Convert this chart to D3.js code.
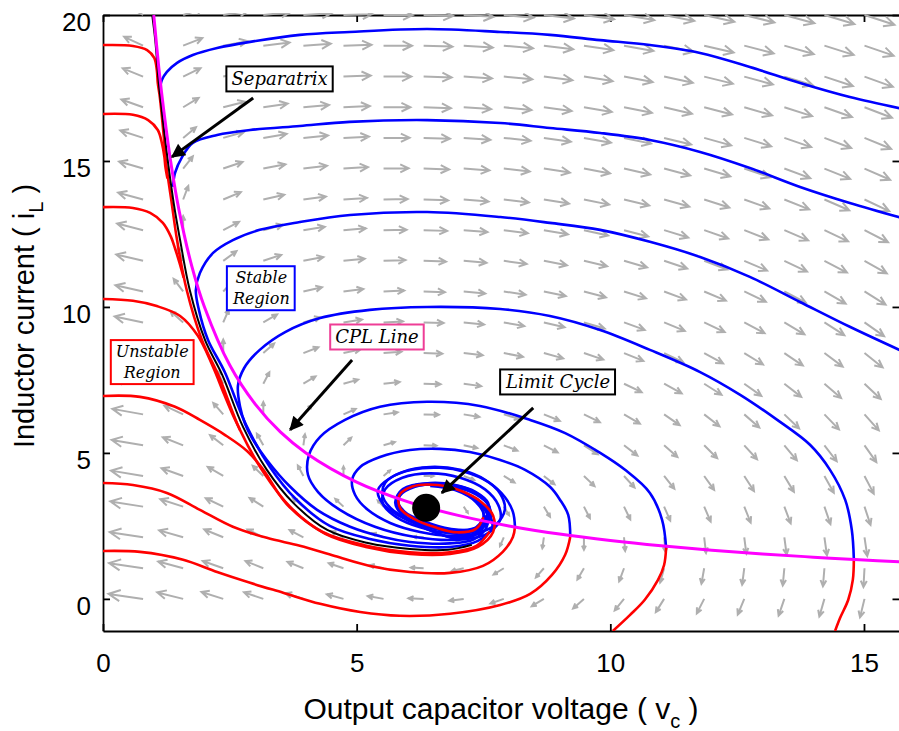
<!DOCTYPE html>
<html>
<head>
<meta charset="utf-8">
<script src="https://cdnjs.cloudflare.com/ajax/libs/d3/7.8.5/d3.min.js"></script>
<style>
  body { margin: 0; background: #fff; }
  svg { display: block; }
</style>
</head>
<body>
<div id="chart"></div>
<script>

// quiver grid (v along columns, i along rows) and the field read at each point
var fieldV = [0.79, 1.58, 2.37, 3.16, 3.95, 4.74, 5.53, 6.32, 7.11, 7.90, 8.69, 9.48, 10.27, 11.06, 11.85, 12.64, 13.43, 14.22, 15.01];
var fieldI = [0, 1.05, 2.11, 3.16, 4.21, 5.26, 6.32, 7.37, 8.42, 9.47, 10.53, 11.58, 12.63, 13.68, 14.74, 15.79, 16.84, 17.89, 18.95, 20];

var fieldDv = [
  [-25.3, -12.7, -8.4, -6.3, -5.1, -4.2, -3.6, -3.2, -2.8, -2.5, -2.3, -2.1, -1.9, -1.8, -1.7, -1.6, -1.5, -1.4, -1.3],
  [-24.3, -11.6, -7.4, -5.3, -4.0, -3.2, -2.6, -2.1, -1.8, -1.5, -1.2, -1.1, -0.9, -0.8, -0.6, -0.5, -0.4, -0.4, -0.3],
  [-23.2, -10.6, -6.3, -4.2, -3.0, -2.1, -1.5, -1.1, -0.7, -0.4, -0.2, 0.0, 0.2, 0.3, 0.4, 0.5, 0.6, 0.7, 0.8],
  [-22.2, -9.5, -5.3, -3.2, -1.9, -1.1, -0.5, 0.0, 0.3, 0.6, 0.9, 1.0, 1.2, 1.3, 1.5, 1.6, 1.7, 1.7, 1.8],
  [-21.1, -8.4, -4.2, -2.1, -0.8, 0.0, 0.6, 1.1, 1.4, 1.7, 1.9, 2.1, 2.3, 2.4, 2.5, 2.6, 2.7, 2.8, 2.9],
  [-20.1, -7.4, -3.2, -1.1, 0.2, 1.0, 1.6, 2.1, 2.5, 2.7, 3.0, 3.2, 3.3, 3.5, 3.6, 3.7, 3.8, 3.9, 3.9],
  [-19.0, -6.3, -2.1, 0.0, 1.3, 2.1, 2.7, 3.2, 3.5, 3.8, 4.0, 4.2, 4.4, 4.5, 4.6, 4.7, 4.8, 4.9, 5.0],
  [-18.0, -5.3, -1.1, 1.0, 2.3, 3.1, 3.7, 4.2, 4.6, 4.8, 5.1, 5.3, 5.4, 5.6, 5.7, 5.8, 5.9, 6.0, 6.0],
  [-16.9, -4.2, 0.0, 2.1, 3.4, 4.2, 4.8, 5.3, 5.6, 5.9, 6.1, 6.3, 6.5, 6.6, 6.7, 6.8, 6.9, 7.0, 7.1],
  [-15.8, -3.2, 1.0, 3.1, 4.4, 5.3, 5.9, 6.3, 6.7, 6.9, 7.2, 7.4, 7.5, 7.7, 7.8, 7.9, 8.0, 8.1, 8.1],
  [-14.8, -2.1, 2.1, 4.2, 5.5, 6.3, 6.9, 7.4, 7.7, 8.0, 8.2, 8.4, 8.6, 8.7, 8.8, 8.9, 9.0, 9.1, 9.2],
  [-13.7, -1.1, 3.1, 5.2, 6.5, 7.4, 8.0, 8.4, 8.8, 9.0, 9.3, 9.5, 9.6, 9.8, 9.9, 10.0, 10.1, 10.2, 10.2],
  [-12.7, 0.0, 4.2, 6.3, 7.6, 8.4, 9.0, 9.5, 9.8, 10.1, 10.3, 10.5, 10.7, 10.8, 10.9, 11.1, 11.1, 11.2, 11.3],
  [-11.6, 1.0, 5.2, 7.4, 8.6, 9.5, 10.1, 10.5, 10.9, 11.2, 11.4, 11.6, 11.7, 11.9, 12.0, 12.1, 12.2, 12.3, 12.4],
  [-10.6, 2.1, 6.3, 8.4, 9.7, 10.5, 11.1, 11.6, 11.9, 12.2, 12.4, 12.6, 12.8, 12.9, 13.0, 13.2, 13.3, 13.3, 13.4],
  [-9.5, 3.1, 7.3, 9.5, 10.7, 11.6, 12.2, 12.6, 13.0, 13.3, 13.5, 13.7, 13.8, 14.0, 14.1, 14.2, 14.3, 14.4, 14.5],
  [-8.5, 4.2, 8.4, 10.5, 11.8, 12.6, 13.2, 13.7, 14.0, 14.3, 14.5, 14.7, 14.9, 15.0, 15.2, 15.3, 15.4, 15.4, 15.5],
  [-7.4, 5.2, 9.5, 11.6, 12.8, 13.7, 14.3, 14.7, 15.1, 15.4, 15.6, 15.8, 15.9, 16.1, 16.2, 16.3, 16.4, 16.5, 16.6],
  [-6.4, 6.3, 10.5, 12.6, 13.9, 14.7, 15.3, 15.8, 16.1, 16.4, 16.6, 16.8, 17.0, 17.1, 17.3, 17.4, 17.5, 17.5, 17.6],
  [-5.3, 7.3, 11.6, 13.7, 14.9, 15.8, 16.4, 16.8, 17.2, 17.5, 17.7, 17.9, 18.1, 18.2, 18.3, 18.4, 18.5, 18.6, 18.7]
];

var fieldDi = [
  [6.3, 5.5, 4.6, 3.7, 2.8, 2.0, 1.1, 0.2, -0.6, -1.5, -2.4, -3.2, -4.1, -5.0, -5.8, -6.7, -7.6, -8.4, -9.3],
  [6.3, 5.4, 4.5, 3.7, 2.8, 1.9, 1.0, 0.2, -0.7, -1.6, -2.4, -3.3, -4.2, -5.0, -5.9, -6.8, -7.6, -8.5, -9.4],
  [6.2, 5.3, 4.5, 3.6, 2.7, 1.9, 1.0, 0.1, -0.8, -1.6, -2.5, -3.4, -4.2, -5.1, -6.0, -6.8, -7.7, -8.6, -9.4],
  [6.1, 5.3, 4.4, 3.5, 2.7, 1.8, 0.9, 0.05, -0.8, -1.7, -2.6, -3.4, -4.3, -5.2, -6.0, -6.9, -7.8, -8.6, -9.5],
  [6.1, 5.2, 4.3, 3.5, 2.6, 1.7, 0.9, 0.0, -0.9, -1.8, -2.6, -3.5, -4.4, -5.2, -6.1, -7.0, -7.8, -8.7, -9.6],
  [6.0, 5.1, 4.3, 3.4, 2.5, 1.7, 0.8, -0.1, -0.9, -1.8, -2.7, -3.6, -4.4, -5.3, -6.2, -7.0, -7.9, -8.8, -9.6],
  [5.9, 5.1, 4.2, 3.3, 2.5, 1.6, 0.7, -0.1, -1.0, -1.9, -2.8, -3.6, -4.5, -5.4, -6.2, -7.1, -8.0, -8.8, -9.7],
  [5.9, 5.0, 4.1, 3.3, 2.4, 1.5, 0.7, -0.2, -1.1, -1.9, -2.8, -3.7, -4.5, -5.4, -6.3, -7.2, -8.0, -8.9, -9.8],
  [5.8, 4.9, 4.1, 3.2, 2.3, 1.5, 0.6, -0.3, -1.1, -2.0, -2.9, -3.7, -4.6, -5.5, -6.4, -7.2, -8.1, -9.0, -9.8],
  [5.8, 4.9, 4.0, 3.1, 2.3, 1.4, 0.5, -0.3, -1.2, -2.1, -2.9, -3.8, -4.7, -5.5, -6.4, -7.3, -8.2, -9.0, -9.9],
  [5.7, 4.8, 3.9, 3.1, 2.2, 1.3, 0.5, -0.4, -1.3, -2.1, -3.0, -3.9, -4.7, -5.6, -6.5, -7.3, -8.2, -9.1, -10.0],
  [5.6, 4.8, 3.9, 3.0, 2.1, 1.3, 0.4, -0.5, -1.3, -2.2, -3.1, -3.9, -4.8, -5.7, -6.5, -7.4, -8.3, -9.2, -10.0],
  [5.6, 4.7, 3.8, 3.0, 2.1, 1.2, 0.3, -0.5, -1.4, -2.3, -3.1, -4.0, -4.9, -5.7, -6.6, -7.5, -8.3, -9.2, -10.1],
  [5.5, 4.6, 3.8, 2.9, 2.0, 1.1, 0.3, -0.6, -1.5, -2.3, -3.2, -4.1, -4.9, -5.8, -6.7, -7.5, -8.4, -9.3, -10.1],
  [5.4, 4.6, 3.7, 2.8, 2.0, 1.1, 0.2, -0.7, -1.5, -2.4, -3.3, -4.1, -5.0, -5.9, -6.7, -7.6, -8.5, -9.3, -10.2],
  [5.4, 4.5, 3.6, 2.8, 1.9, 1.0, 0.2, -0.7, -1.6, -2.5, -3.3, -4.2, -5.1, -5.9, -6.8, -7.7, -8.5, -9.4, -10.3],
  [5.3, 4.4, 3.6, 2.7, 1.8, 1.0, 0.1, -0.8, -1.6, -2.5, -3.4, -4.3, -5.1, -6.0, -6.9, -7.7, -8.6, -9.5, -10.3],
  [5.2, 4.4, 3.5, 2.6, 1.8, 0.9, 0.0, -0.8, -1.7, -2.6, -3.5, -4.3, -5.2, -6.1, -6.9, -7.8, -8.7, -9.5, -10.4],
  [5.2, 4.3, 3.4, 2.6, 1.7, 0.8, 0.0, -0.9, -1.8, -2.6, -3.5, -4.4, -5.3, -6.1, -7.0, -7.9, -8.7, -9.6, -10.5],
  [5.1, 4.2, 3.4, 2.5, 1.6, 0.8, -0.1, -1.0, -1.8, -2.7, -3.6, -4.4, -5.3, -6.2, -7.1, -7.9, -8.8, -9.7, -10.5]
];

// CPL line and separatrix, [v, i]
var cplLine = [[1.0, 20], [1.1, 18.2], [1.2, 16.7], [1.35, 14.8], [1.5, 13.3], [1.75, 11.4], [2.0, 10.0], [2.5, 8.0],
  [3.0, 6.67], [3.5, 5.71], [4.0, 5.0], [5.0, 4.0], [6.0, 3.33], [7.0, 2.86], [8.0, 2.5], [9.0, 2.22], [10.0, 2.0],
  [11.0, 1.82], [12.0, 1.67], [13.0, 1.54], [14.0, 1.43], [15.0, 1.33], [15.7, 1.27]];

var separatrix = [[0.97, 20.0], [1.03, 19.14], [1.10, 17.67], [1.18, 16.40], [1.28, 14.97], [1.40, 13.49], [1.52, 12.29],
  [1.71, 10.58], [2.01, 8.87], [2.35, 7.67], [2.76, 5.89], [3.23, 4.42], [3.75, 3.29], [4.42, 2.36], [5.20, 1.92],
  [6.05, 1.71], [6.80, 1.68], [7.27, 1.85]];

// stable trajectories (blue)
var blueC1 = [[1.12, 17.43], [1.16, 17.77], [1.26, 18.05], [1.46, 18.36], [1.77, 18.63], [2.25, 18.87], [2.90, 19.08],
  [3.88, 19.32], [4.86, 19.42], [6.39, 19.52], [7.83, 19.42], [8.81, 19.32], [9.80, 19.14], [10.78, 18.97],
  [11.77, 18.70], [12.75, 18.22], [13.74, 17.67], [14.72, 17.19], [15.72, 16.80]];

var blueC2 = [[1.38, 14.11], [1.42, 14.59], [1.56, 15.14], [1.77, 15.62], [2.25, 15.89], [2.90, 16.06], [3.88, 16.20],
  [4.86, 16.34], [6.39, 16.40], [7.83, 16.30], [8.81, 16.13], [9.80, 15.96], [10.78, 15.72], [11.77, 15.31],
  [12.75, 14.76], [13.74, 14.11], [14.72, 13.56], [15.72, 13.06]];

var blueC3 = [[15.72, 8.51], [14.72, 9.32], [13.74, 10.17], [12.75, 11.03], [11.77, 11.71], [10.78, 12.23], [9.80, 12.64],
  [8.81, 12.88], [7.83, 13.08], [6.39, 13.25], [4.87, 13.15], [3.88, 12.91], [3.09, 12.64], [2.56, 12.29], [2.17, 11.85],
  [1.91, 11.16], [1.83, 10.58], [1.89, 9.90], [2.07, 8.87], [2.40, 7.77], [2.82, 5.96], [3.29, 4.52], [3.80, 3.42],
  [4.47, 2.50], [5.26, 2.05], [6.05, 1.82], [6.84, 1.78], [7.39, 1.99], [7.67, 2.43], [7.60, 2.95], [7.35, 3.40],
  [6.90, 3.80], [6.39, 3.92], [5.93, 3.72], [5.79, 3.29], [5.90, 2.92], [6.19, 2.57], [6.58, 2.26], [6.98, 2.09],
  [7.41, 2.33], [7.52, 2.88]];

var blueA1 = [[14.80, 1.37], [14.76, 2.36], [14.63, 3.39], [14.33, 4.42], [13.94, 5.27], [13.29, 6.13], [12.56, 6.99],
  [11.77, 7.77], [10.78, 8.53], [9.80, 9.21], [8.81, 9.69], [7.83, 9.93], [6.39, 10.0], [5.26, 9.90], [4.28, 9.62],
  [3.59, 9.14], [3.09, 8.53], [2.78, 7.90], [2.66, 7.30], [2.70, 6.60], [2.80, 6.00], [2.94, 5.50], [3.23, 4.76],
  [3.69, 3.84], [4.22, 3.05], [4.87, 2.47], [5.52, 2.12], [6.05, 1.95], [6.84, 1.90], [7.31, 2.04], [7.56, 2.45],
  [7.56, 2.95], [7.31, 3.42], [6.86, 3.82], [6.39, 3.95], [5.91, 3.76], [5.76, 3.31], [5.88, 2.90], [6.19, 2.55],
  [6.60, 2.24], [7.00, 2.06], [7.44, 2.30], [7.55, 2.85]];

var blueA2 = [[11.10, 1.75], [11.02, 2.71], [10.78, 3.63], [10.29, 4.42], [9.80, 5.00], [9.11, 5.68], [8.42, 6.13],
  [7.43, 6.61], [6.39, 6.75], [5.46, 6.58], [4.77, 6.13], [4.28, 5.55], [4.06, 4.93], [4.04, 4.25], [4.24, 3.66],
  [4.67, 3.05], [5.36, 2.47], [6.15, 2.12], [6.94, 2.02], [7.53, 2.19], [7.83, 2.71], [7.79, 3.22], [7.53, 3.75],
  [7.04, 4.15], [6.45, 4.30], [5.90, 4.15], [5.56, 3.75], [5.52, 3.25], [5.78, 2.80], [6.25, 2.45], [6.84, 2.25],
  [7.35, 2.32], [7.62, 2.70], [7.60, 3.20], [7.35, 3.58], [6.90, 3.85], [6.39, 3.93]];

var blueA3 = [[9.21, 2.12], [9.17, 2.88], [9.01, 3.39], [8.81, 3.84], [8.32, 4.42], [7.83, 4.76], [7.23, 5.03], [6.64, 5.14],
  [6.05, 5.10], [5.46, 4.86], [5.07, 4.52], [4.91, 4.08], [4.97, 3.56], [5.22, 3.05], [5.66, 2.60], [6.25, 2.29],
  [6.84, 2.16], [7.33, 2.23], [7.73, 2.53], [7.92, 3.05], [7.83, 3.60], [7.53, 4.08], [7.04, 4.42], [6.45, 4.52],
  [5.91, 4.35], [5.56, 3.97], [5.52, 3.49], [5.76, 2.98], [6.25, 2.57], [6.84, 2.36], [7.33, 2.43], [7.59, 2.77],
  [7.59, 3.29], [7.35, 3.66], [6.94, 3.90], [6.45, 3.97], [6.01, 3.80], [5.81, 3.39], [5.95, 2.98], [6.35, 2.64],
  [6.84, 2.40], [7.30, 2.40], [7.50, 2.80], [7.45, 3.25]];

var blueA4 = [[8.12, 2.47], [8.08, 2.98], [7.92, 3.49], [7.59, 4.01], [7.14, 4.35], [6.64, 4.49], [6.09, 4.42], [5.66, 4.14],
  [5.42, 3.73], [5.50, 3.29], [5.80, 2.88], [6.25, 2.53], [6.80, 2.33], [7.27, 2.33], [7.57, 2.60], [7.63, 3.05],
  [7.47, 3.49], [7.14, 3.80], [6.64, 3.94], [6.15, 3.84], [5.85, 3.53], [5.85, 3.12], [6.15, 2.71], [6.64, 2.36],
  [7.08, 2.23], [7.39, 2.40], [7.51, 2.84], [7.35, 3.32], [6.94, 3.73], [6.45, 3.87]];

// unstable trajectories (red)
var redR1 = [[0, 18.97], [0.59, 18.94], [0.87, 18.80], [1.01, 18.53], [1.06, 18.12], [1.08, 17.67], [1.12, 17.19],
  [1.20, 15.80], [1.24, 14.97], [1.36, 13.49], [1.46, 12.29], [1.65, 10.58], [1.95, 8.87], [2.29, 7.60], [2.70, 5.79],
  [3.17, 4.32], [3.69, 3.15], [4.38, 2.23], [5.18, 1.78], [6.05, 1.54], [6.84, 1.54], [7.39, 1.78], [7.69, 2.29],
  [7.69, 2.85], [7.45, 3.33], [7.04, 3.71], [6.60, 3.90], [6.10, 3.85], [5.84, 3.55], [5.86, 3.10], [6.12, 2.75],
  [6.55, 2.45], [6.98, 2.28], [7.35, 2.40], [7.50, 2.80]];
var redR2 = [[0, 16.61], [0.59, 16.58], [0.89, 16.40], [1.08, 16.06], [1.16, 15.62], [1.21, 15.14], [1.23, 14.80], [1.27, 14.40]];
var redR3 = [[0, 13.42], [0.59, 13.39], [0.93, 13.22], [1.18, 12.88], [1.34, 12.40], [1.43, 11.95], [1.51, 11.50], [1.59, 11.00]];
var redR4 = [[0, 10.27], [0.59, 10.21], [1.06, 10.03], [1.52, 9.69], [1.87, 9.01], [2.15, 8.02], [2.39, 7.0], [2.56, 6.30], [2.70, 5.79]];
var redR5 = [[0, 6.95], [0.73, 6.92], [1.42, 6.58], [1.91, 6.13], [2.40, 5.62], [2.85, 5.05], [3.15, 4.45], [3.62, 3.25],
  [4.32, 2.30], [5.15, 1.84], [6.05, 1.60], [6.84, 1.60], [7.36, 1.82], [7.62, 2.30]];
var redR6 = [[0, 3.97], [0.59, 3.90], [1.26, 3.63], [1.91, 3.05], [2.56, 2.47], [3.23, 2.09], [3.88, 1.82], [4.57, 1.47],
  [5.26, 1.13], [6.05, 0.92], [6.84, 0.89], [7.49, 1.13], [7.88, 1.61], [8.08, 2.12], [8.12, 2.47]];
var redR7 = [[0, 1.64], [0.73, 1.61], [1.58, 1.34], [2.25, 0.92], [2.90, 0.55], [3.55, 0.21], [4.28, -0.17], [5.07, -0.45],
  [5.85, -0.58], [6.84, -0.51], [7.83, -0.21], [8.42, 0.17], [8.85, 0.82], [9.11, 1.51], [9.21, 2.12]];
var redB1 = [[11.10, 1.75], [11.06, 1.16], [10.94, 0.65], [10.68, -0.03], [10.39, -0.55], [10.05, -1.10]];
var redB2 = [[14.80, 1.37], [14.78, 0.65], [14.69, -0.03], [14.53, -0.65], [14.43, -1.10]];

var equilibrium = [6.37, 3.12];

var xTicks = [0, 5, 10, 15];
var yTicks = [0, 5, 10, 15, 20];

var noteText = ["Separatrix", "Stable|Region", "Unstable|Region", "CPL Line", "Limit Cycle"];
var noteV = [3.48, 3.12, 0.97, 5.40, 8.97];
var noteI = [17.81, 10.65, 8.12, 8.97, 7.43];
var pointerFrom = [[2.96, 17.16], [4.91, 8.18], [8.48, 6.54]];
var pointerTo = [[1.36, 15.14], [3.69, 5.79], [6.68, 3.63]];

var noteColor = ["#000000", "#0000ff", "#ff0000", "#ee3d96", "#000000"];
var noteSize = [18, 16, 16, 18, 18];

var width = 899, height = 731;
var plotLeft = 103, plotRight = 899.5, plotTop = 15, plotBottom = 631;

var x = d3.scaleLinear().domain([0, 15.7]).range([plotLeft, plotRight]);
var y = d3.scaleLinear().domain([-1.1, 20]).range([plotBottom, plotTop]);

var svg = d3.select("#chart").append("svg")
    .attr("width", width)
    .attr("height", height)
    .style("background", "#fff");

var defs = svg.append("defs");
defs.append("clipPath")
    .attr("id", "plot-clip")
  .append("rect")
    .attr("x", plotLeft)
    .attr("y", plotTop - 2)
    .attr("width", plotRight - plotLeft)
    .attr("height", plotBottom - plotTop + 2);

defs.append("marker")
    .attr("id", "tip")
    .attr("viewBox", "0 0 10 10")
    .attr("refX", 9)
    .attr("refY", 5)
    .attr("markerUnits", "userSpaceOnUse")
    .attr("markerWidth", 16)
    .attr("markerHeight", 14)
    .attr("orient", "auto")
  .append("path")
    .attr("d", "M0,0 L10,5 L0,10 Z")
    .attr("fill", "#000");

// frame and ticks
var axisFont = "'Liberation Sans', Arial, Helvetica, sans-serif";

var gx = svg.append("g")
    .attr("transform", "translate(0," + plotBottom + ")")
    .call(d3.axisBottom(x).tickValues(xTicks).tickSize(-7).tickSizeOuter(0).tickPadding(23));
var gy = svg.append("g")
    .attr("transform", "translate(" + plotLeft + ",0)")
    .call(d3.axisLeft(y).tickValues(yTicks).tickSize(-7).tickSizeOuter(0).tickPadding(12));
var gt = svg.append("g")
    .attr("transform", "translate(0," + plotTop + ")")
    .call(d3.axisTop(x).tickValues(xTicks).tickSize(-7).tickSizeOuter(0).tickFormat(""));
var gr = svg.append("g")
    .attr("transform", "translate(" + plotRight + ",0)")
    .call(d3.axisRight(y).tickValues(yTicks).tickSize(-7).tickSizeOuter(0).tickFormat(""));

[gx, gy, gt, gr].forEach(function(g) {
    g.selectAll("path, line").attr("stroke", "#000").attr("stroke-width", 1.8);
    g.selectAll("text")
        .attr("fill", "#000")
        .style("font-family", axisFont)
        .style("font-size", "26px");
});
gy.selectAll("text").attr("transform", "translate(0,7)");

var plot = svg.append("g").attr("clip-path", "url(#plot-clip)");

// quiver arrows
var lenScale = d3.scalePow().exponent(0.4).domain([0, 1300]).range([0, 35]);
var arrows = [];
fieldI.forEach(function(iv, r) {
    fieldV.forEach(function(vv, c) {
        var px = x(vv + fieldDv[r][c]) - x(vv);
        var py = y(iv + fieldDi[r][c]) - y(iv);
        var m = Math.sqrt(px * px + py * py);
        if (m < 1e-6) return;
        arrows.push({x0: x(vv), y0: y(iv), ux: px / m, uy: py / m, len: lenScale(m)});
    });
});

plot.append("g").selectAll("path")
    .data(arrows)
    .enter().append("path")
    .attr("d", function(d) {
        var x1 = d.x0 + d.ux * d.len, y1 = d.y0 + d.uy * d.len;
        var h = d.len * 0.37, a = 0.45;
        var c = Math.cos(a), s = Math.sin(a);
        var bx = -d.ux, by = -d.uy;
        var hx1 = x1 + h * (bx * c - by * s), hy1 = y1 + h * (bx * s + by * c);
        var hx2 = x1 + h * (bx * c + by * s), hy2 = y1 + h * (-bx * s + by * c);
        return "M" + d.x0 + "," + d.y0 + "L" + x1 + "," + y1 +
            "M" + hx1 + "," + hy1 + "L" + x1 + "," + y1 + "L" + hx2 + "," + hy2;
    })
    .attr("fill", "none")
    .attr("stroke", "#afafaf")
    .attr("stroke-width", 2)
    .attr("stroke-linejoin", "miter");

var line = d3.line()
    .x(function(d) { return x(d[0]); })
    .y(function(d) { return y(d[1]); })
    .curve(d3.curveCatmullRom.alpha(0.5));

var blues = [blueC1, blueC2, blueC3, blueA1, blueA2, blueA3, blueA4];
var reds = [redR1, redR2, redR3, redR4, redR5, redR6, redR7, redB1, redB2];

plot.append("g").selectAll("path")
    .data(blues)
    .enter().append("path")
    .attr("d", line)
    .attr("fill", "none")
    .attr("stroke", "#0000ff")
    .attr("stroke-width", 2.6);

plot.append("g").selectAll("path")
    .data(reds)
    .enter().append("path")
    .attr("d", line)
    .attr("fill", "none")
    .attr("stroke", "#ff0000")
    .attr("stroke-width", 2.6);

plot.append("path")
    .datum(separatrix)
    .attr("d", line)
    .attr("fill", "none")
    .attr("stroke", "#000")
    .attr("stroke-width", 2);

plot.append("path")
    .datum(cplLine)
    .attr("d", line)
    .attr("fill", "none")
    .attr("stroke", "#ff00ff")
    .attr("stroke-width", 3);

plot.append("circle")
    .attr("cx", x(equilibrium[0]))
    .attr("cy", y(equilibrium[1]))
    .attr("r", 14)
    .attr("fill", "#000");

// pointers
pointerFrom.forEach(function(p, k) {
    svg.append("line")
        .attr("x1", x(p[0]))
        .attr("y1", y(p[1]))
        .attr("x2", x(pointerTo[k][0]))
        .attr("y2", y(pointerTo[k][1]))
        .attr("stroke", "#000")
        .attr("stroke-width", 3)
        .attr("marker-end", "url(#tip)");
});

// labelled boxes
noteText.forEach(function(t, k) {
    var g = svg.append("g")
        .attr("transform", "translate(" + x(noteV[k]) + "," + y(noteI[k]) + ")");
    var rect = g.append("rect");
    var parts = t.split("|");
    var txt = g.append("text")
        .attr("text-anchor", "middle")
        .style("font-family", "'DejaVu Serif', serif")
        .style("font-style", "italic")
        .style("font-size", noteSize[k] + "px")
        .attr("fill", "#000");
    parts.forEach(function(p, j) {
        txt.append("tspan")
            .attr("x", 0)
            .attr("y", (j - (parts.length - 1) / 2) * 21 + noteSize[k] * 0.36)
            .text(p);
    });
    var bb = txt.node().getBBox();
    rect.attr("x", bb.x - 5)
        .attr("y", bb.y - 2)
        .attr("width", bb.width + 10)
        .attr("height", bb.height + 4)
        .attr("fill", "#fff")
        .attr("stroke", noteColor[k])
        .attr("stroke-width", 2);
});

// axis titles
var xt = svg.append("text")
    .attr("x", 501)
    .attr("y", 719)
    .attr("text-anchor", "middle")
    .style("font-family", axisFont)
    .style("font-size", "30px")
    .attr("fill", "#000");
xt.append("tspan").text("Output capacitor voltage ( v");
xt.append("tspan").attr("dy", 9).style("font-size", "20px").text("c");
xt.append("tspan").attr("dy", -9).text(" )");

var yt = svg.append("text")
    .attr("transform", "translate(34,316) rotate(-90)")
    .attr("text-anchor", "middle")
    .style("font-family", axisFont)
    .style("font-size", "29px")
    .attr("fill", "#000");
yt.append("tspan").text("Inductor current ( i");
yt.append("tspan").attr("dy", 9).style("font-size", "20px").text("L");
yt.append("tspan").attr("dy", -9).text(" )");

</script>
</body>
</html>
